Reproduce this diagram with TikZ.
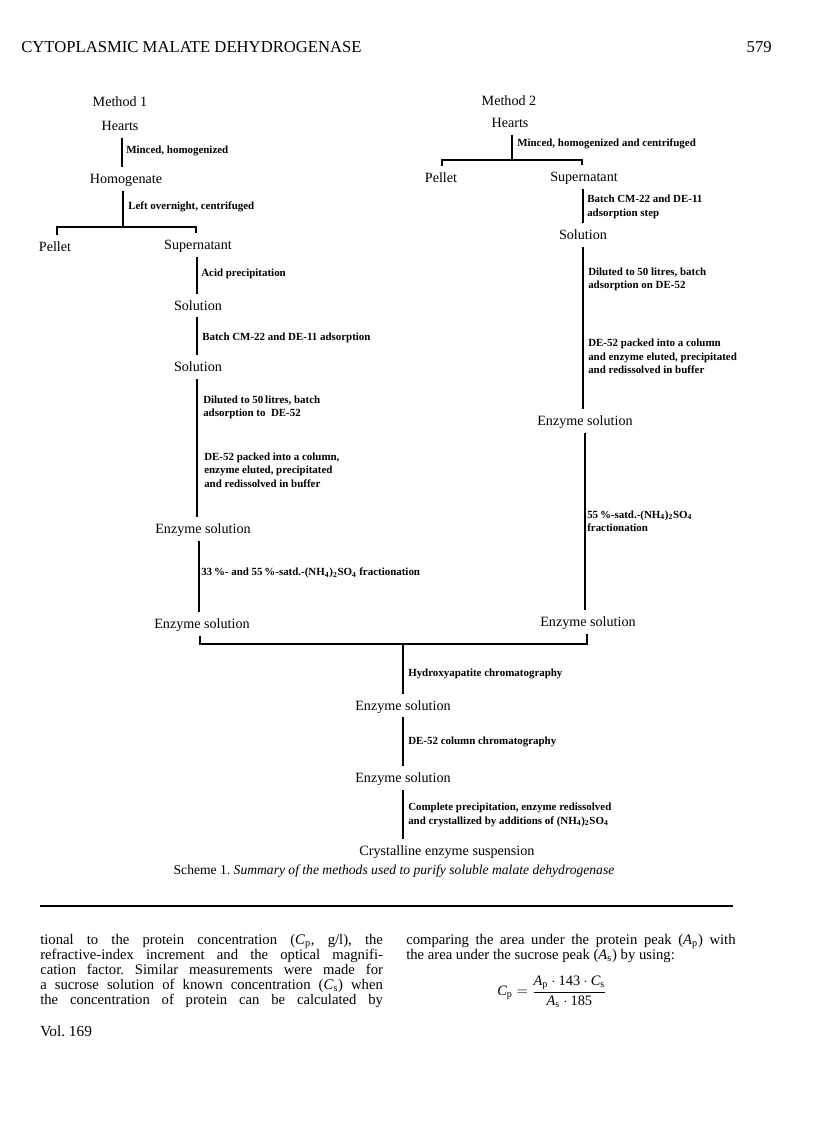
\documentclass[tikz,border=0pt]{standalone}
\usepackage{fontspec}
\usepackage{amsmath}
\setmainfont{Liberation Serif}
\begin{document}
\frenchspacing
\begin{tikzpicture}[x=0.75pt,y=-0.75pt,
 nd/.style={anchor=base, font=\fontsize{10.6}{12}\selectfont, text height=6.8pt, text depth=0pt, inner xsep=0pt, inner ysep=5.25pt},
 lab/.style={anchor=west, align=left, font=\fontsize{8.2}{10.1}\selectfont\bfseries, inner sep=0pt},
 ln/.style={line width=0.8pt},
 body/.style={inner sep=0pt, font=\fontsize{11}{11.25}\selectfont}
]
\useasboundingbox (0,0) rectangle (816,1136);
\fill[white] (0,0) rectangle (816,1136);

% header
\node[anchor=base west, inner sep=0pt, font=\fontsize{12.5}{13}\selectfont] (head) at (21,52) {CYTOPLASMIC MALATE DEHYDROGENASE};
\node[anchor=base east, inner sep=0pt, font=\fontsize{12.5}{13}\selectfont] (pageno) at (772,52) {579};

% Method 1
\node[nd] (m1) at (120,106.5) {Method 1};
\node[nd] (hearts1) at (120,130.5) {Hearts};
\node[nd] (homog1) at (126,183.5) {Homogenate};
\node[nd] (pellet1) at (55,251.5) {Pellet};
\node[nd] (super1) at (198,249.5) {Supernatant};
\node[nd] (sol1a) at (198,310) {Solution};
\node[nd] (sol1b) at (198,371.5) {Solution};
\node[nd] (enz1a) at (203,533.5) {Enzyme solution};
\node[nd] (enz1b) at (202,628.5) {Enzyme solution};

% Method 2
\node[nd] (m2) at (509,105.5) {Method 2};
\node[nd] (hearts2) at (510,127.5) {Hearts};
\node[nd] (pellet2) at (441,182.5) {Pellet};
\node[nd] (super2) at (584,181.5) {Supernatant};
\node[nd] (sol2) at (583,239.5) {Solution};
\node[nd] (enz2a) at (585,425.5) {Enzyme solution};
\node[nd] (enz2b) at (588,626.5) {Enzyme solution};

% common
\node[nd] (enzc1) at (403,710) {Enzyme solution};
\node[nd] (enzc2) at (403,782.5) {Enzyme solution};
\node[nd] (cryst) at (447,855.5) {Crystalline enzyme suspension};

% coordinates for connector lines
\coordinate (a1) at (122,0);
\coordinate (b1) at (123,227);
\coordinate (b1l) at (57,227);
\coordinate (b1r) at (196,227);
\coordinate (a3) at (197,0);
\coordinate (a6) at (199,0);
\coordinate (jl) at (200,644);
\coordinate (jr) at (587,644);
\coordinate (jc) at (403,644);
\coordinate (c1) at (512,160);
\coordinate (c1l) at (442,160);
\coordinate (c1r) at (582,160);
\coordinate (c3) at (583,0);
\coordinate (c5) at (585,0);

% Method 1 connectors
\draw[ln] (hearts1.south -| a1) -- (homog1.north -| a1);
\draw[ln] (homog1.south -| b1) -- (b1);
\draw[ln] (pellet1.north -| b1l) -- (b1l) -- (b1r) -- (super1.north -| b1r);
\draw[ln] (super1.south -| a3) -- (sol1a.north -| a3);
\draw[ln] (sol1a.south -| a3) -- (sol1b.north -| a3);
\draw[ln] (sol1b.south -| a3) -- (enz1a.north -| a3);
\draw[ln] (enz1a.south -| a6) -- (enz1b.north -| a6);

% Method 2 connectors
\draw[ln] (hearts2.south -| c1) -- (c1);
\draw[ln] (pellet2.north -| c1l) -- (c1l) -- (c1r) -- (super2.north -| c1r);
\draw[ln] (super2.south -| c3) -- (sol2.north -| c3);
\draw[ln] (sol2.south -| c3) -- (enz2a.north -| c3);
\draw[ln] (enz2a.south -| c5) -- (enz2b.north -| c5);

% join and common path
\draw[ln] (enz1b.south -| jl) -- (jl) -- (jr) -- (enz2b.south -| jr);
\draw[ln] (jc) -- (enzc1.north -| jc);
\draw[ln] (enzc1.south -| jc) -- (enzc2.north -| jc);
\draw[ln] (enzc2.south -| jc) -- (cryst.north -| jc);

% labels
\node[lab] (l1) at (126,151) {Minced, homogenized};
\node[lab] (l2) at (128,207) {Left overnight, centrifuged};
\node[lab] (l3) at (201,274) {Acid precipitation};
\node[lab] (l4) at (202,338) {Batch CM-22 and DE-11 adsorption};
\node[lab] (l5) at (203,407.5) {Diluted to 50\,litres, batch\\adsorption to\ \ DE-52};
\node[lab] (l6) at (204,470) {DE-52 packed into a column,\\enzyme eluted, precipitated\\and redissolved in buffer};
\node[lab] (l7) at (201,573) {33\,\%- and 55\,\%-satd.-(NH\textsubscript{4})\textsubscript{2}SO\textsubscript{4} fractionation};
\node[lab] (r1) at (517,144) {Minced, homogenized and centrifuged};
\node[lab] (r2) at (587,207) {Batch CM-22 and DE-11\\adsorption step};
\node[lab] (r3) at (588,279.5) {Diluted to 50 litres, batch\\adsorption on DE-52};
\node[lab] (r4) at (588,356.5) {DE-52 packed into a column\\and enzyme eluted, precipitated\\and redissolved in buffer};
\node[lab] (r5) at (587,521.5) {55\,\%-satd.-(NH\textsubscript{4})\textsubscript{2}SO\textsubscript{4}\\fractionation};
\node[lab] (k1) at (408,674) {Hydroxyapatite chromatography};
\node[lab] (k2) at (408,742) {DE-52 column chromatography};
\node[lab] (k3) at (408,815) {Complete precipitation, enzyme redissolved\\and crystallized by additions of (NH\textsubscript{4})\textsubscript{2}SO\textsubscript{4}};

% caption
\node[anchor=base, inner sep=0pt, font=\fontsize{10.2}{12}\selectfont] (cap) at (394,874) {Scheme 1. \textit{Summary of the methods used to purify soluble malate dehydrogenase}};

% rule
\coordinate (rl) at (40,906);
\coordinate (rr) at (733,906);
\draw[line width=1.1pt] (rl) -- (rr);

% body text
\node[body, anchor=north west, align=left] (colL) at (40,934) {%
\makebox[257pt][s]{tional to the protein concentration (\textit{C}\textsubscript{p}, g/l), the}\\
\makebox[257pt][s]{refractive-index increment and the optical magnifi-}\\
\makebox[257pt][s]{cation factor. Similar measurements were made for}\\
\makebox[257pt][s]{a sucrose solution of known concentration (\textit{C}\textsubscript{s}) when}\\
\makebox[257pt][s]{the concentration of protein can be calculated by}};
\node[body, anchor=north west, align=left] (colR) at (406,934) {%
\makebox[247pt][s]{comparing the area under the protein peak (\textit{A}\textsubscript{p}) with}\\
the area under the sucrose peak (\textit{A}\textsubscript{s}) by using:};
\node[inner sep=0pt, font=\fontsize{10.8}{12}\selectfont] (formula) at (552,992) {$\textit{C}_{\text{p}}=\dfrac{\textit{A}_{\text{p}}\cdot\text{143}\cdot\textit{C}_{\text{s}}}{\textit{A}_{\text{s}}\cdot\text{185}}$};
\node[anchor=base west, inner sep=0pt, font=\fontsize{11.5}{12}\selectfont] (vol) at (40,1036) {Vol. 169};
\end{tikzpicture}
\end{document}
